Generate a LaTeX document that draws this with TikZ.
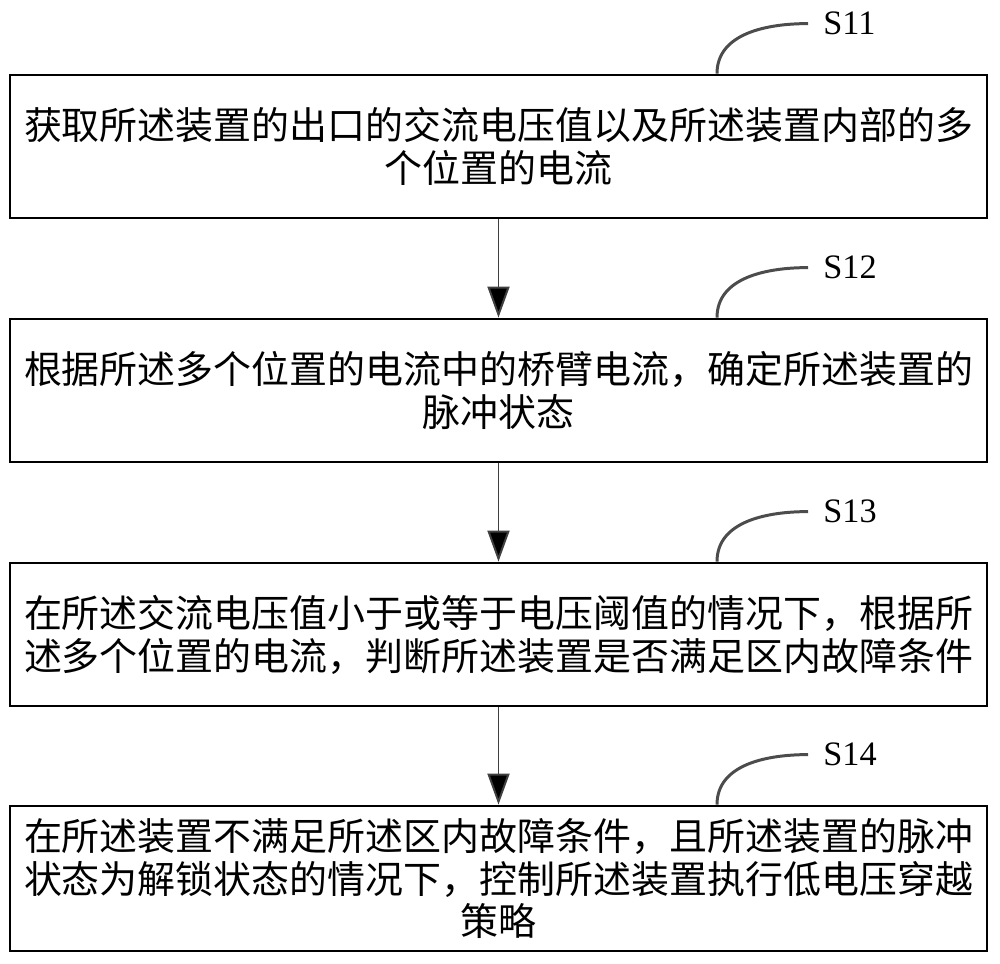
\documentclass[tikz,border=0pt]{standalone}
\usepackage{fontspec}
\setmainfont{Liberation Serif}
\newfontfamily\cjk{Noto Sans CJK SC}
\usetikzlibrary{arrows.meta}

\begin{document}
\begin{tikzpicture}[-,
					auto,
					node distance=4.88cm,
					step box/.style={rectangle,draw,line width=1.6pt,
						minimum width=19.54cm,minimum height=2.86cm,
						align=center,font=\cjk\fontsize{21.6}{24.4}\selectfont},
					step label/.style={anchor=west,inner xsep=0.3cm,inner ysep=0pt,
						font=\fontsize{19.5}{22}\selectfont},
					flow/.style={draw=black!75,line width=1.1pt,
						-{Triangle[width=0.44cm,length=0.62cm]}},
					tag/.style={draw=black!70,line width=1.7pt}]

  \useasboundingbox (0,0) rectangle (20,-19.28);

  \node[step box] (B1) at (9.97,-2.93)
    {获取所述装置的出口的交流电压值以及所述装置内部的多\\个位置的电流};
  \node[step box] (B2) [below of=B1]
    {根据所述多个位置的电流中的桥臂电流，确定所述装置的\\脉冲状态};
  \node[step box] (B3) [below of=B2]
    {在所述交流电压值小于或等于电压阈值的情况下，根据所\\述多个位置的电流，判断所述装置是否满足区内故障条件};
  \node[step box,minimum height=2.9cm] (B4) [below of=B3]
    {在所述装置不满足所述区内故障条件，且所述装置的脉冲\\状态为解锁状态的情况下，控制所述装置执行低电压穿越\\策略};

  % step numbers
  \node[step label] (S11) at ([xshift=6.19cm,yshift=1cm]B1.north) {S11};
  \node[step label] (S12) at ([xshift=6.19cm,yshift=1cm]B2.north) {S12};
  \node[step label] (S13) at ([xshift=6.19cm,yshift=1cm]B3.north) {S13};
  \node[step label] (S14) at ([xshift=6.19cm,yshift=1cm]B4.north) {S14};

  \path[tag]
    ([xshift=4.37cm]B1.north) edge[out=90,in=180] (S11.west)
    ([xshift=4.37cm]B2.north) edge[out=90,in=180] (S12.west)
    ([xshift=4.37cm]B3.north) edge[out=90,in=180] (S13.west)
    ([xshift=4.37cm]B4.north) edge[out=90,in=180] (S14.west);

  \path[flow]
    (B1) edge (B2)
    (B2) edge (B3)
    (B3) edge (B4);
\end{tikzpicture}
\end{document}
